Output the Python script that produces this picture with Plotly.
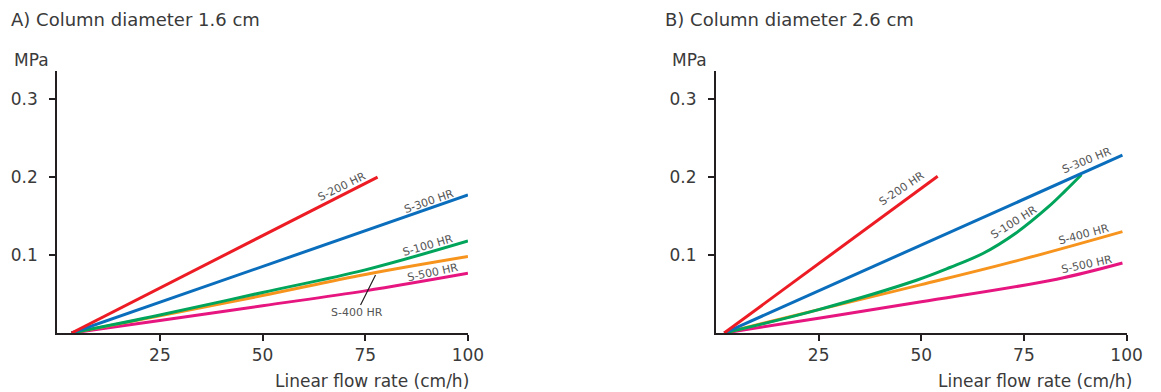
import plotly.graph_objects as go

# ---------------- data ----------------
# Panel A (column diameter 1.6 cm)
a_s200_x = [3.5, 78]
a_s200_y = [0, 0.200]
a_s300_x = [3.5, 100]
a_s300_y = [0, 0.177]
a_s100_x = [3.5, 25, 50, 75, 100]
a_s100_y = [0, 0.023, 0.052, 0.081, 0.118]
a_s400_x = [3.5, 25, 50, 75, 100]
a_s400_y = [0, 0.022, 0.048, 0.075, 0.098]
a_s500_x = [3.5, 25, 50, 75, 100]
a_s500_y = [0, 0.016, 0.035, 0.054, 0.0765]

# Panel B (column diameter 2.6 cm)
b_s200_x = [2, 54]
b_s200_y = [0, 0.201]
b_s300_x = [2, 99]
b_s300_y = [0, 0.228]
b_s100_x = [2, 25, 49, 57, 65, 73, 81, 85, 89]
b_s100_y = [0, 0.030, 0.068, 0.084, 0.102, 0.128, 0.162, 0.182, 0.203]
b_s400_x = [2, 25, 50, 75, 99]
b_s400_y = [0, 0.030, 0.062, 0.095, 0.130]
b_s500_x = [2, 25, 50, 83, 99]
b_s500_y = [0, 0.019, 0.040, 0.069, 0.0897]

x_ticks = [25, 50, 75, 100]
y_ticks = [0.1, 0.2, 0.3]
y_tick_text = ["0.1", "0.2", "0.3"]

titles = ["A) Column diameter 1.6 cm", "B) Column diameter 2.6 cm"]

# ---------------- style ----------------
COL = {
    "S-200 HR": "#ed1c24",
    "S-300 HR": "#0a6ebd",
    "S-100 HR": "#00a45a",
    "S-400 HR": "#f7941d",
    "S-500 HR": "#e6157f",
}
FONT = "DejaVu Sans"
TXT = "#3a3a3a"
LBL = "#555555"
AX = "#231f20"
W, H = 1161, 392

fig = go.Figure()

panels = [
    ("x", "y", {
        "S-200 HR": (a_s200_x, a_s200_y),
        "S-300 HR": (a_s300_x, a_s300_y),
        "S-100 HR": (a_s100_x, a_s100_y),
        "S-400 HR": (a_s400_x, a_s400_y),
        "S-500 HR": (a_s500_x, a_s500_y),
    }),
    ("x2", "y2", {
        "S-200 HR": (b_s200_x, b_s200_y),
        "S-300 HR": (b_s300_x, b_s300_y),
        "S-100 HR": (b_s100_x, b_s100_y),
        "S-400 HR": (b_s400_x, b_s400_y),
        "S-500 HR": (b_s500_x, b_s500_y),
    }),
]

for xr, yr, data in panels:
    for name in ["S-500 HR", "S-400 HR", "S-100 HR", "S-300 HR", "S-200 HR"]:
        xs, ys = data[name]
        fig.add_trace(go.Scatter(
            x=xs, y=ys, mode="lines", name=name, xaxis=xr, yaxis=yr,
            line=dict(color=COL[name], width=3, shape="spline", smoothing=1.0),
            showlegend=False, hoverinfo="skip",
        ))

axis_common = dict(
    showgrid=False, zeroline=False, showline=True, linecolor=AX, linewidth=2,
    ticks="outside", ticklen=6, tickwidth=1.5, tickcolor=AX,
    tickfont=dict(family=FONT, size=17, color=TXT),
)

dom_a = [58.0 / W, 474.5 / W]
dom_b = [726.0 / W, 1142.3 / W]
dom_y = [(H - 333) / H, (H - 71) / H]

fig.update_layout(
    width=W, height=H,
    margin=dict(l=0, r=0, t=0, b=0),
    paper_bgcolor="white", plot_bgcolor="white",
    xaxis=dict(domain=dom_a, range=[0, 100], tickvals=x_ticks, anchor="y", **axis_common),
    yaxis=dict(domain=dom_y, range=[0, 0.336], tickvals=y_ticks, ticktext=y_tick_text,
               anchor="x", ticklabelstandoff=8, **axis_common),
    xaxis2=dict(domain=dom_b, range=[0, 100], tickvals=x_ticks, anchor="y2", **axis_common),
    yaxis2=dict(domain=dom_y, range=[0, 0.336], tickvals=y_ticks, ticktext=y_tick_text,
                anchor="x2", ticklabelstandoff=8, **axis_common),
)

ann = []
for i in range(2):
    left_px = [9, 672][i]
    ann.append(dict(text=titles[i], xref="paper", yref="paper",
                    x=left_px / W, y=1 - 20 / H, xanchor="left", yanchor="middle",
                    showarrow=False, font=dict(family=FONT, size=18, color=TXT)))
    mpa_px = [32, 699][i]
    ann.append(dict(text="MPa", xref="paper", yref="paper",
                    x=mpa_px / W, y=1 - 60 / H, xanchor="center", yanchor="middle",
                    showarrow=False, font=dict(family=FONT, size=17, color=TXT)))
    end_px = [478, 1150][i]
    ann.append(dict(text="Linear flow rate (cm/h)", xref="paper", yref="paper",
                    x=end_px / W, y=1 - 381 / H, xanchor="right", yanchor="middle",
                    showarrow=False, font=dict(family=FONT, size=17, color=TXT)))

# series labels along the lines: (name, x, y, angle)
labels_a = [
    ("S-200 HR", 69.4, 0.188, -26),
    ("S-300 HR", 90.5, 0.169, -19),
    ("S-100 HR", 90.3, 0.112, -16),
    ("S-500 HR", 91.5, 0.078, -12),
]
labels_b = [
    ("S-200 HR", 45.3, 0.185, -34),
    ("S-300 HR", 90.3, 0.221, -22),
    ("S-100 HR", 72.5, 0.142, -32),
    ("S-400 HR", 89.6, 0.126, -15),
    ("S-500 HR", 90.3, 0.088, -12),
]
for xr, yr, labels in [("x", "y", labels_a), ("x2", "y2", labels_b)]:
    for name, lx, ly, ang in labels:
        ann.append(dict(text=name, xref=xr, yref=yr, x=lx, y=ly, textangle=ang,
                        showarrow=False, xanchor="center", yanchor="middle",
                        font=dict(family=FONT, size=11, color=LBL)))

# S-400 HR label with leader line (panel A)
ann.append(dict(text="S-400 HR", xref="x", yref="y", x=77.5, y=0.0745,
                ax=-19, ay=38, showarrow=True, arrowhead=0, arrowwidth=1.2,
                arrowcolor=AX, standoff=0, startstandoff=0,
                font=dict(family=FONT, size=11, color=LBL)))

fig.update_layout(annotations=ann)

fig.write_html("out.html")
